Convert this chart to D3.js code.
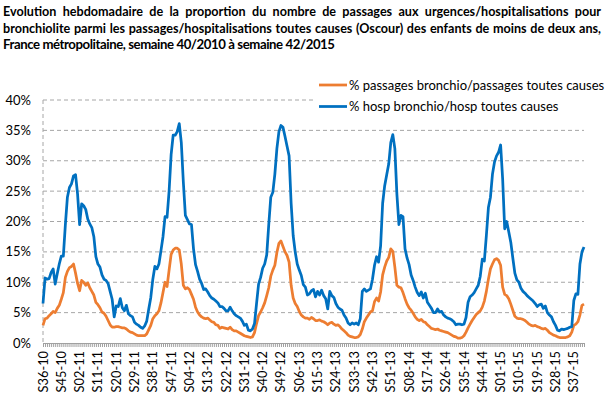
<!DOCTYPE html>
<html><head><meta charset="utf-8">
<script src="https://cdn.jsdelivr.net/npm/d3@7"></script>
<style>body{margin:0;background:#fff}svg{display:block}</style>
</head><body>
<svg id="c" width="605" height="393"></svg>
<script>
// ---------- DATA ----------
const titleLines = [
  "Evolution hebdomadaire de la proportion du nombre de passages aux urgences/hospitalisations pour",
  "bronchiolite parmi les passages/hospitalisations toutes causes (Oscour) des enfants de moins de deux ans,",
  "France métropolitaine, semaine 40/2010 à semaine 42/2015"
];
const seriesNames = ["% passages bronchio/passages toutes causes", "% hosp bronchio/hosp toutes causes"];
const firstWeek = 36, firstYear = 2010, lastWeek = 42, lastYear = 2015;
const weeksPerYear = {2010: 52, 2011: 52, 2012: 52, 2013: 52, 2014: 52, 2015: 53};
const xTickLabels = ["S36-10","S45-10","S02-11","S11-11","S20-11","S29-11","S38-11","S47-11","S04-12","S13-12",
  "S22-12","S31-12","S40-12","S49-12","S06-13","S15-13","S24-13","S33-13","S42-13","S51-13","S08-14","S17-14",
  "S26-14","S35-14","S44-14","S01-15","S10-15","S19-15","S28-15","S37-15"];
const yTicks = [0, 5, 10, 15, 20, 25, 30, 35, 40];

const hosp = [
 6.5,10.7,10.5,10.6,11.6,12.2,9.7,11.4,13.0,14.3,
 14.3,19.5,24.0,25.6,26.2,27.5,27.7,24.5,19.5,22.9,
 22.6,22.0,20.4,19.6,19.0,17.5,14.2,13.0,12.5,11.2,
 10.5,10.3,9.8,8.5,7.2,4.3,6.1,6.0,7.3,5.8,
 5.3,6.2,4.8,4.5,4.3,3.4,3.1,2.9,2.6,2.4,
 2.8,3.6,5.6,7.5,10.5,12.6,12.2,13.0,15.2,17.5,
 20.8,20.7,25.0,31.0,34.2,34.2,34.8,36.1,33.0,26.5,
 21.0,20.3,19.6,19.5,15.5,12.9,11.8,10.5,9.8,8.8,
 8.9,8.4,7.8,7.4,7.2,6.9,6.6,6.0,6.0,5.7,
 5.3,5.3,5.9,5.3,4.8,4.5,4.3,4.1,3.6,2.9,
 3.1,2.1,2.0,2.3,3.2,6.5,9.7,10.8,12.3,13.0,
 14.5,19.5,24.0,24.8,27.8,32.0,34.8,35.8,35.5,34.0,
 32.4,30.8,23.0,17.7,15.0,13.0,12.0,11.1,9.6,9.2,
 7.9,8.1,8.6,8.8,7.6,8.5,7.9,8.7,7.8,7.3,
 5.6,8.5,7.8,7.5,6.5,5.9,5.6,5.4,4.6,4.1,
 3.3,3.0,3.3,3.1,3.3,3.0,4.0,8.5,8.9,8.5,
 8.7,8.9,10.5,12.8,14.2,13.3,16.0,23.0,25.9,27.7,
 29.5,33.0,34.3,32.0,24.5,19.5,21.0,20.8,15.5,14.0,
 12.9,11.2,10.3,9.2,8.3,7.8,8.4,7.4,8.2,6.7,
 6.2,5.7,5.0,5.0,5.6,5.1,5.2,4.6,4.3,4.1,
 4.0,3.8,3.5,3.0,3.1,3.1,3.0,3.1,4.2,6.7,
 7.6,7.9,8.3,8.9,9.5,11.0,13.8,13.5,17.7,22.3,
 24.0,27.8,29.8,30.8,31.4,32.6,27.0,18.8,20.0,18.3,
 16.6,14.0,11.5,10.4,10.0,9.0,8.5,8.2,7.8,7.5,
 7.2,6.9,6.5,6.0,6.3,6.4,5.7,6.1,5.0,4.6,
 4.3,3.5,2.9,2.1,2.0,2.3,2.2,2.3,2.4,2.6,
 2.7,7.0,8.1,8.0,13.0,15.0,15.8
];
const passages = [
 2.9,4.0,4.1,4.5,4.8,5.2,5.0,5.7,6.2,7.2,
 8.3,10.8,11.8,12.4,12.6,13.0,11.5,9.8,8.6,10.3,
 10.0,9.5,9.9,9.1,8.5,7.9,6.7,6.3,5.8,5.1,
 4.9,4.4,3.7,3.0,2.6,2.6,2.7,2.7,2.6,2.5,
 2.5,2.3,2.0,1.8,1.7,1.5,1.3,1.2,1.2,1.2,
 1.2,1.5,2.2,2.9,4.0,4.5,4.8,5.3,6.6,8.3,
 10.0,9.3,12.0,14.6,15.3,15.6,15.6,15.3,13.0,9.5,
 8.9,9.1,8.8,8.0,7.2,5.9,5.1,4.6,4.3,4.1,
 4.0,4.1,3.8,3.5,3.4,3.0,2.9,2.4,2.6,2.5,
 2.4,2.3,2.6,2.2,2.0,2.0,1.8,1.6,1.4,1.2,
 1.1,1.0,0.9,1.0,1.7,3.2,4.5,5.1,5.8,6.6,
 7.8,9.1,11.0,12.0,12.8,14.9,16.4,16.8,15.9,15.0,
 14.4,13.3,9.5,7.4,6.5,6.0,5.2,4.6,4.3,4.1,
 4.1,3.9,4.2,4.0,3.7,3.7,3.8,3.6,3.5,3.3,
 3.0,3.3,3.4,3.1,2.9,3.0,2.7,2.3,2.0,1.7,
 1.3,1.1,1.0,0.9,0.9,1.0,1.4,2.3,3.5,4.1,
 4.6,5.1,5.3,6.8,7.4,6.9,8.4,11.2,12.5,13.5,
 14.1,15.5,15.1,12.5,9.5,9.2,9.1,8.3,7.3,6.4,
 5.8,5.4,4.9,4.3,3.9,3.7,3.9,3.5,3.4,3.0,
 2.7,2.4,2.3,2.2,2.3,2.1,2.0,1.9,1.8,1.7,
 1.5,1.3,1.1,1.0,0.8,0.8,0.9,1.2,1.8,2.5,
 3.1,3.7,4.2,4.7,5.0,5.3,5.9,6.9,8.5,10.5,
 12.2,13.0,13.7,13.9,13.6,12.8,9.2,8.0,7.8,7.3,
 6.4,5.4,4.4,4.1,4.0,4.0,3.9,3.7,3.4,3.1,
 2.9,2.8,2.9,2.7,2.6,2.4,2.3,2.4,2.1,1.7,
 1.5,1.3,1.2,1.0,0.9,0.9,0.9,0.9,1.0,1.2,
 1.8,2.9,3.1,3.5,4.6,6.2,6.4
];

// ---------- CATEGORIES ----------
const categories = [];
{
  let w = firstWeek, yr = firstYear;
  while (!(yr === lastYear && w > lastWeek)) {
    categories.push("S" + String(w).padStart(2, "0") + "-" + String(yr % 100).padStart(2, "0"));
    w++;
    if (w > weeksPerYear[yr]) { w = 1; yr++; }
  }
}

// ---------- CHART ----------
const svg = d3.select("#c");
const FONT = "Lato, 'Open Sans', sans-serif";
const colPass = "#ED7D31", colHosp = "#0070C0", gridCol = "#A6A6A6";

const x = d3.scalePoint().domain(categories).range([43, 584]);
const y = d3.scaleLinear().domain([0, 40]).range([343, 100]);

// title (justified first two lines)
const tg = svg.append("g").attr("font-family", FONT).attr("font-weight", "bold").attr("font-size", 12.6).attr("fill", "#000");
const titleY = [16, 32.5, 49];
titleLines.forEach((line, li) => {
  const words = line.split(" ");
  if (li < 2) {
    const nodes = words.map(wd => tg.append("text").attr("y", titleY[li]).text(wd));
    const widths = nodes.map(n => n.node().getComputedTextLength());
    const total = d3.sum(widths);
    const gap = (601 - 3 - total) / (words.length - 1);
    let cx = 3;
    nodes.forEach((n, k) => { n.attr("x", cx); cx += widths[k] + gap; });
  } else {
    tg.append("text").attr("x", 3).attr("y", titleY[li]).attr("font-size", 13.2)
      .attr("textLength", 332).attr("lengthAdjust", "spacing").text(line);
  }
});

// gridlines
svg.append("g").selectAll("line").data(yTicks.filter(d => d > 0)).join("line")
  .attr("x1", 43).attr("x2", 584).attr("y1", d => y(d)).attr("y2", d => y(d))
  .attr("stroke", gridCol).attr("stroke-width", 1).attr("stroke-dasharray", "4,3");
// vertical dashed y axis
svg.append("line").attr("x1", 43).attr("x2", 43).attr("y1", y(40)).attr("y2", y(0))
  .attr("stroke", gridCol).attr("stroke-width", 1).attr("stroke-dasharray", "4,3");

// y labels
svg.append("g").attr("font-family", FONT).attr("font-size", 13).attr("fill", "#000")
  .selectAll("text").data(yTicks).join("text")
  .attr("x", 31).attr("y", d => y(d)).attr("dy", "0.35em").attr("text-anchor", "end")
  .text(d => d + "%");

// x axis with weekly ticks
const xAxis = d3.axisBottom(x).tickSize(4).tickFormat("");
const gx = svg.append("g").attr("transform", `translate(0,${y(0)})`).call(xAxis);
gx.select(".domain").attr("stroke", "#A0A0A0").attr("d", `M${x.range()[0]},0.5H${x.range()[1]}`);
gx.selectAll(".tick line").attr("stroke", "#A0A0A0").attr("stroke-width", 1);

// x labels
svg.append("g").attr("font-family", FONT).attr("font-size", 12.8).attr("fill", "#000")
  .selectAll("text").data(xTickLabels).join("text")
  .attr("transform", d => `translate(${x(d) + 4.5},351) rotate(-90)`)
  .attr("text-anchor", "end")
  .text(d => d);

// lines
const lineGen = d3.line().x((d, i) => x(categories[i])).y(d => y(d)).curve(d3.curveLinear);
svg.append("path").datum(passages).attr("d", lineGen).attr("fill", "none")
  .attr("stroke", colPass).attr("stroke-width", 2.75).attr("stroke-linejoin", "round");
svg.append("path").datum(hosp).attr("d", lineGen).attr("fill", "none")
  .attr("stroke", colHosp).attr("stroke-width", 2.75).attr("stroke-linejoin", "round");

// legend
const lg = svg.append("g");
lg.append("rect").attr("x", 313).attr("y", 75).attr("width", 292).attr("height", 42).attr("fill", "#fff");
const legendItems = [{name: seriesNames[0], col: colPass, yy: 85}, {name: seriesNames[1], col: colHosp, yy: 106.5}];
legendItems.forEach(it => {
  lg.append("line").attr("x1", 319).attr("x2", 347).attr("y1", it.yy).attr("y2", it.yy)
    .attr("stroke", it.col).attr("stroke-width", 2.75);
  lg.append("text").attr("x", 349).attr("y", it.yy).attr("dy", "0.35em")
    .attr("font-family", FONT).attr("font-size", 13).attr("fill", "#000").text(it.name);
});
</script>
</body></html>
